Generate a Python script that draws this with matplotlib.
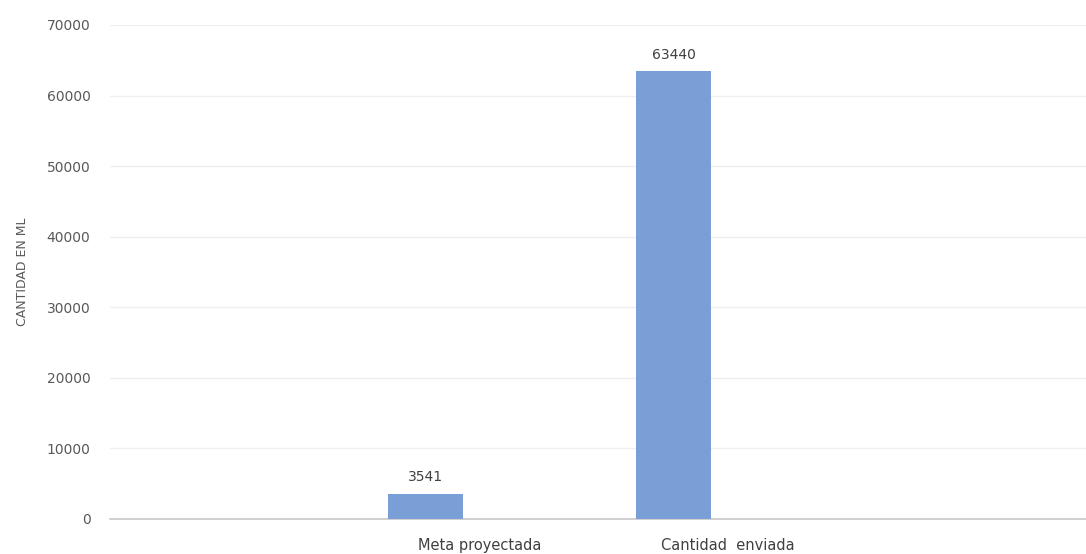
import matplotlib.pyplot as plt
import numpy as np

categories = ["Meta proyectada", "Cantidad  enviada"]
values = [3541, 63440]
y_ticks = [0, 10000, 20000, 30000, 40000, 50000, 60000, 70000]

fig = plt.figure(figsize=(10.86, 5.54), dpi=100)
ax = fig.add_axes([110 / 1086, 35 / 554, 976 / 1086, 494 / 554])

x = np.arange(len(categories))
bars = ax.bar(x, values, width=0.30, color="#7a9ed6", zorder=3)

# value labels above the bars
for xi, v in zip(x, values):
    ax.annotate(str(v), (xi, v), xytext=(0, 7), textcoords="offset points",
                ha="center", va="bottom", fontsize=10, color="#404040")

ax.set_ylim(0, 70000)
ax.set_xlim(-1.272, 2.663)
ax.set_yticks(y_ticks)
ax.set_yticklabels([str(t) for t in y_ticks])
ax.set_xticks(x + 0.218)
ax.set_xticklabels(categories)

ax.grid(axis="y", color="#efefef", linewidth=1, zorder=0)
for s in ["top", "right", "left"]:
    ax.spines[s].set_visible(False)
ax.spines["bottom"].set_color("#c8c8c8")
ax.spines["bottom"].set_linewidth(1.2)

ax.tick_params(axis="y", length=0, pad=14, labelsize=10, labelcolor="#595959")
ax.tick_params(axis="x", length=0, pad=14, labelsize=10.5, labelcolor="#404040")
ax.set_ylabel("CANTIDAD EN ML", fontsize=9, color="#595959", labelpad=13)

fig.savefig("out.png", dpi=100)
